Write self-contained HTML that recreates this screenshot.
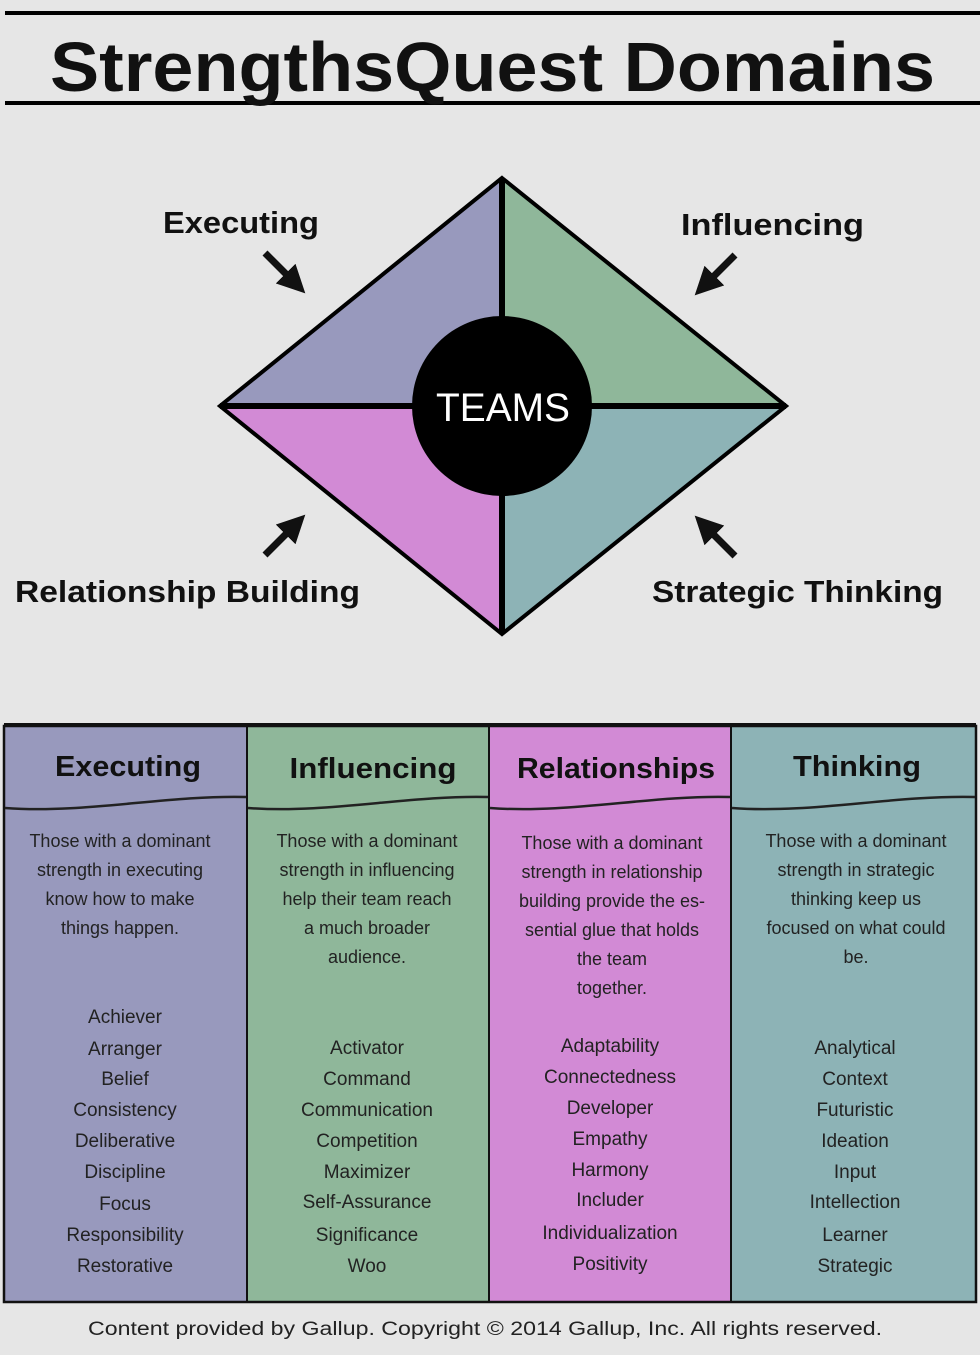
<!DOCTYPE html>
<html><head><meta charset="utf-8"><style>
html,body{margin:0;padding:0;background:#e6e6e6;}
svg{display:block;}
text{font-family:"Liberation Sans",sans-serif;}
.b{font-weight:bold;fill:#111;}
.d{font-size:18px;fill:#222;text-anchor:middle;}
.i{font-size:19px;fill:#222;text-anchor:middle;}
.h{font-size:29px;font-weight:bold;fill:#111;text-anchor:middle;}
</style></head><body>
<svg width="980" height="1355" viewBox="0 0 980 1355" xmlns="http://www.w3.org/2000/svg">
<rect width="980" height="1355" fill="#e6e6e6"/>
<line x1="5" y1="13" x2="980" y2="13" stroke="#000" stroke-width="4"/>
<line x1="5" y1="103" x2="980" y2="103" stroke="#000" stroke-width="4"/>
<text x="50" y="91" class="b" font-size="70" textLength="885" lengthAdjust="spacingAndGlyphs">StrengthsQuest Domains</text>

<polygon points="502,178 502,406 220,406" fill="#9899bd"/>
<polygon points="502,178 786,406 502,406" fill="#8fb79a"/>
<polygon points="220,406 502,406 502,634" fill="#d28ad5"/>
<polygon points="502,406 786,406 502,634" fill="#8db3b6"/>
<polygon points="502,178 786,406 502,634 220,406" fill="none" stroke="#000" stroke-width="4" stroke-linejoin="miter"/>
<line x1="502" y1="178" x2="502" y2="634" stroke="#000" stroke-width="6"/>
<line x1="220" y1="406" x2="786" y2="406" stroke="#000" stroke-width="6"/>
<circle cx="502" cy="406" r="90" fill="#000"/>
<text x="503" y="421" fill="#fff" font-size="40" text-anchor="middle" textLength="134" lengthAdjust="spacingAndGlyphs">TEAMS</text>

<defs><marker id="ah" markerWidth="4" markerHeight="4" refX="0.3" refY="2" orient="auto" markerUnits="strokeWidth"><path d="M0,0 L4,2 L0,4 z" fill="#111"/></marker></defs>
<g stroke="#111" stroke-width="7" marker-end="url(#ah)">
<line x1="265" y1="253" x2="287" y2="275"/>
<line x1="735" y1="255" x2="713" y2="277"/>
<line x1="265" y1="555" x2="287" y2="533"/>
<line x1="735" y1="556" x2="713" y2="534"/>
</g>
<text x="163" y="233" class="b" font-size="31" textLength="156" lengthAdjust="spacingAndGlyphs">Executing</text>
<text x="681" y="235" class="b" font-size="31" textLength="183" lengthAdjust="spacingAndGlyphs">Influencing</text>
<text x="15" y="602" class="b" font-size="31" textLength="345" lengthAdjust="spacingAndGlyphs">Relationship Building</text>
<text x="652" y="602" class="b" font-size="31" textLength="291" lengthAdjust="spacingAndGlyphs">Strategic Thinking</text>

<rect x="4" y="726" width="243" height="576" fill="#9899bd"/>
<rect x="247" y="726" width="242" height="576" fill="#8fb79a"/>
<rect x="489" y="726" width="242" height="576" fill="#d28ad5"/>
<rect x="731" y="726" width="245" height="576" fill="#8db3b6"/>
<rect x="4" y="726" width="972" height="576" fill="none" stroke="#111" stroke-width="2.5"/>
<line x1="4" y1="725" x2="976" y2="725" stroke="#111" stroke-width="4"/>
<g stroke="#111" stroke-width="2"><line x1="247" y1="726" x2="247" y2="1302"/><line x1="489" y1="726" x2="489" y2="1302"/><line x1="731" y1="726" x2="731" y2="1302"/></g>
<g fill="none" stroke="#222" stroke-width="2.5">
<path d="M5,808 C85,814 165,795 246,797"/>
<path d="M248,808 C328,814 408,795 488,797"/>
<path d="M490,808 C570,814 650,795 730,797"/>
<path d="M732,808 C812,814 892,795 975,797"/>
</g>
<text x="128" y="776" class="h" textLength="146" lengthAdjust="spacingAndGlyphs">Executing</text>
<text x="373" y="778" class="h" textLength="167" lengthAdjust="spacingAndGlyphs">Influencing</text>
<text x="616" y="778" class="h" textLength="198" lengthAdjust="spacingAndGlyphs">Relationships</text>
<text x="857" y="776" class="h" textLength="128" lengthAdjust="spacingAndGlyphs">Thinking</text>

<g>
<text x="120" y="847" class="d">Those with a dominant</text>
<text x="120" y="876" class="d">strength in executing</text>
<text x="120" y="905" class="d">know how to make</text>
<text x="120" y="934" class="d">things happen.</text>

<text x="367" y="847" class="d">Those with a dominant</text>
<text x="367" y="876" class="d">strength in influencing</text>
<text x="367" y="905" class="d">help their team reach</text>
<text x="367" y="934" class="d">a much broader</text>
<text x="367" y="963" class="d">audience.</text>

<text x="612" y="849" class="d">Those with a dominant</text>
<text x="612" y="878" class="d">strength in relationship</text>
<text x="612" y="907" class="d">building provide the es-</text>
<text x="612" y="936" class="d">sential glue that holds</text>
<text x="612" y="965" class="d">the team</text>
<text x="612" y="994" class="d">together.</text>

<text x="856" y="847" class="d">Those with a dominant</text>
<text x="856" y="876" class="d">strength in strategic</text>
<text x="856" y="905" class="d">thinking keep us</text>
<text x="856" y="934" class="d">focused on what could</text>
<text x="856" y="963" class="d">be.</text>
</g>

<g>
<text x="125" y="1023" class="i">Achiever</text>
<text x="125" y="1055" class="i">Arranger</text>
<text x="125" y="1085" class="i">Belief</text>
<text x="125" y="1116" class="i">Consistency</text>
<text x="125" y="1147" class="i">Deliberative</text>
<text x="125" y="1178" class="i">Discipline</text>
<text x="125" y="1210" class="i">Focus</text>
<text x="125" y="1241" class="i">Responsibility</text>
<text x="125" y="1272" class="i">Restorative</text>

<text x="367" y="1054" class="i">Activator</text>
<text x="367" y="1085" class="i">Command</text>
<text x="367" y="1116" class="i">Communication</text>
<text x="367" y="1147" class="i">Competition</text>
<text x="367" y="1178" class="i">Maximizer</text>
<text x="367" y="1208" class="i">Self-Assurance</text>
<text x="367" y="1241" class="i">Significance</text>
<text x="367" y="1272" class="i">Woo</text>

<text x="610" y="1052" class="i">Adaptability</text>
<text x="610" y="1083" class="i">Connectedness</text>
<text x="610" y="1114" class="i">Developer</text>
<text x="610" y="1145" class="i">Empathy</text>
<text x="610" y="1176" class="i">Harmony</text>
<text x="610" y="1206" class="i">Includer</text>
<text x="610" y="1239" class="i">Individualization</text>
<text x="610" y="1270" class="i">Positivity</text>

<text x="855" y="1054" class="i">Analytical</text>
<text x="855" y="1085" class="i">Context</text>
<text x="855" y="1116" class="i">Futuristic</text>
<text x="855" y="1147" class="i">Ideation</text>
<text x="855" y="1178" class="i">Input</text>
<text x="855" y="1208" class="i">Intellection</text>
<text x="855" y="1241" class="i">Learner</text>
<text x="855" y="1272" class="i">Strategic</text>
</g>

<text x="485" y="1335" font-size="19" fill="#222" text-anchor="middle" textLength="794" lengthAdjust="spacingAndGlyphs">Content provided by Gallup. Copyright © 2014 Gallup, Inc. All rights reserved.</text>
</svg>
</body></html>
